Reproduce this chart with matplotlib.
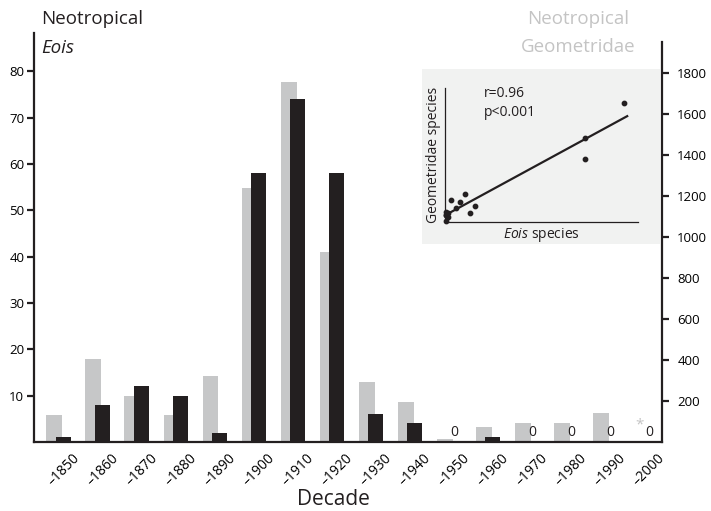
import numpy as np
import matplotlib.pyplot as plt

plt.rcParams['font.family'] = ['Open Sans', 'DejaVu Sans']
plt.rcParams['mathtext.fontset'] = 'custom'
plt.rcParams['mathtext.rm'] = 'Open Sans'
plt.rcParams['mathtext.it'] = 'Open Sans:italic'

# data
decades = ['1850', '1860', '1870', '1880', '1890', '1900', '1910', '1920',
           '1930', '1940', '1950', '1960', '1970', '1980', '1990', '2000']
eois = [1, 8, 12, 10, 2, 58, 74, 58, 6, 4, 0, 1, 0, 0, 0, 0]
geometridae = [130, 405, 225, 130, 320, 1240, 1755, 925,
               295, 195, 15, 75, 95, 95, 140, 0]
zero_decades = ['1950', '1970', '1980', '1990', '2000']
left_ticks = [10, 20, 30, 40, 50, 60, 70, 80]
right_ticks = [200, 400, 600, 800, 1000, 1200, 1400, 1600, 1800]

GRAY = '#c6c7c8'
BLACK = '#231f20'
LIGHT = '#c4c4c4'

W, H = 711, 511
fig = plt.figure(figsize=(W / 100, H / 100), dpi=100)

x = np.arange(len(decades))
ax = fig.add_axes([34 / W, 69 / H, 628 / W, 409 / H])
ax2 = ax.twinx()

# gray = Geometridae (right axis), black = Eois (left axis)
ax2.bar(x - 0.115, geometridae, width=0.41, color=GRAY, zorder=1)
ax.bar(x + 0.115, eois, width=0.40, color=BLACK, zorder=2)

ax.set_zorder(ax2.get_zorder() + 1)
ax.patch.set_visible(False)

ax.set_xlim(-0.64, 15.46)
ax.set_ylim(0, 88.3)
ax2.set_ylim(0, 1995)

for s in ['top', 'right']:
    ax.spines[s].set_visible(False)
for s in ['top', 'left', 'bottom']:
    ax2.spines[s].set_visible(False)
for sp in [ax.spines['left'], ax.spines['bottom'], ax2.spines['right']]:
    sp.set_linewidth(1.6)
    sp.set_color(BLACK)
ax2.spines['right'].set_bounds(0, 1950)

ax.set_yticks(left_ticks)
ax.tick_params(axis='y', direction='out', length=5, width=1.6, labelsize=9.5,
               color=BLACK, pad=2)
ax2.set_yticks(right_ticks)
ax2.tick_params(axis='y', direction='out', length=5, width=1.6, labelsize=9.5,
                color=BLACK, pad=6)

ax.set_xticks(x + 0.33)
ax.set_xticklabels(['\u2013' + d for d in decades], rotation=45, ha='right',
                   rotation_mode='anchor', fontsize=10)
ax.tick_params(axis='x', length=0, pad=6)

# zero markers
for d in zero_decades:
    i = decades.index(d)
    ax.text(i + 0.14, 0.4, '0', ha='center', va='bottom', fontsize=10,
            color=BLACK)
ax.text(decades.index('2000') - 0.12, 2.0, '*', ha='center', va='bottom',
        fontsize=11, color=LIGHT)

fig.text(333 / W, 1 - 499 / H, 'Decade', ha='center', va='center', fontsize=15,
         color=BLACK)

# titles
fig.text(41 / W, 1 - 19 / H, 'Neotropical', ha='left', va='center',
         fontsize=13.5, color=BLACK)
fig.text(41 / W, 1 - 48 / H, 'Eois', ha='left', va='center', fontsize=13.5,
         style='italic', color=BLACK)
fig.text(527 / W, 1 - 19 / H, 'Neotropical', ha='left', va='center',
         fontsize=13.5, color=LIGHT)
fig.text(521 / W, 1 - 47 / H, 'Geometridae', ha='left', va='center',
         fontsize=13.5, color=LIGHT)

# inset background
bg = fig.add_axes([422 / W, 1 - 244 / H, 238 / W, 175 / H])
bg.set_facecolor('#f1f2f1')
bg.set_xticks([])
bg.set_yticks([])
for s in bg.spines.values():
    s.set_visible(False)
bg.set_zorder(ax.get_zorder() + 1)

# inset scatter (2000 left out)
eois_s = np.array(eois[:-1])
geo_s = np.array(geometridae[:-1])
ins = fig.add_axes([445 / W, 1 - 221.7 / H, 193 / W, 133.7 / H])
ins.set_zorder(bg.get_zorder() + 1)
ins.patch.set_visible(False)
ins.scatter(eois_s, geo_s, s=10, color=BLACK, clip_on=False, zorder=3)
coef = np.polyfit(eois_s, geo_s, 1)
xs = np.array([0, eois_s.max() + 1.5])
ins.plot(xs, np.polyval(coef, xs), color=BLACK, lw=1.6)
ins.set_xlim(-0.4, 80)
ins.set_ylim(0, 1972)
ins.set_xticks([])
ins.set_yticks([])
for s in ['top', 'right']:
    ins.spines[s].set_visible(False)
for s in ['left', 'bottom']:
    ins.spines[s].set_linewidth(0.9)
    ins.spines[s].set_color(BLACK)
ins.set_ylabel('Geometridae species', fontsize=10, labelpad=3, color=BLACK)
ins.set_xlabel(r'$\mathit{Eois}$ species', fontsize=10, labelpad=3,
               color=BLACK)
ins.text(0.2, 0.96, 'r=0.96', transform=ins.transAxes, ha='left', va='center',
         fontsize=10, color=BLACK)
ins.text(0.2, 0.82, 'p<0.001', transform=ins.transAxes, ha='left', va='center',
         fontsize=10, color=BLACK)

fig.savefig('out.png', dpi=100)
